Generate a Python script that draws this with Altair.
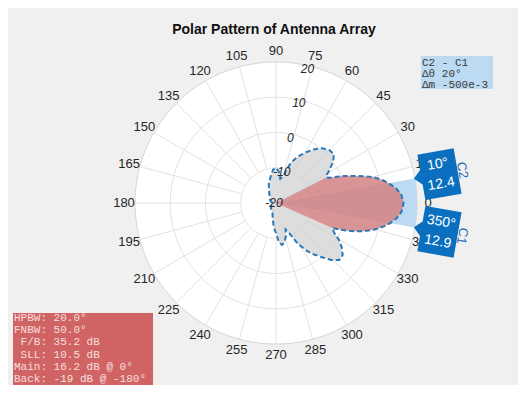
import math
import altair as alt
import pandas as pd

# ---------------- data ----------------
TITLE = "Polar Pattern of Antenna Array"

pattern_angle = [180, 165, 150, 135, 120, 110, 100, 95, 90, 85, 80, 75, 70, 65, 60, 55, 50, 45,
                 40, 36, 32, 29, 27, 25, 22, 20, 17, 15, 12, 10, 7, 4, 0, -4, -7, -10, -12, -15,
                 -18, -20, -22, -24, -27, -30, -34, -38, -42, -46, -50, -55, -58, -62, -66, -70,
                 -74, -78, -82, -86, -90, -95, -100, -110, -120, -135, -150, -165]
pattern_db = [-19, -18.5, -18, -17.5, -16, -14, -12, -10.5, -10, -11, -13, -12, -8, -5.5, -3.5,
              -1.5, 0.3, 1.3, 1.5, 0, -2, -3.5, -4, -3, 0.5, 2.5, 6, 8.5, 11, 12.4, 14.3, 15.6,
              16.2, 15.7, 14.6, 12.9, 11.5, 9, 6, 3.5, 0.5, -2.5, -1.5, 0.5, 2.5, 4, 4.2, 2.5, 0,
              -2.5, -4.4, -7, -10.5, -12, -10, -8.5, -8, -9, -11.5, -13, -15, -17, -17.5, -18,
              -18.5, -19]
main_lobe_range = [-24, 27]          # nulls bounding the main lobe

angle_ticks = list(range(0, 360, 15))
ring_db = [-10, 0, 10, 20]
radial_labels = [-20, -10, 0, 10, 20]
r_min, r_max = -20, 20

cursor_name = ["C1", "C2"]
cursor_angle = [350, 10]
cursor_value = [12.9, 12.4]
span_angles = [-10, 10]

info_keys = ["HPBW:", "FNBW:", "F/B:", "SLL:", "Main:", "Back:"]
info_vals = ["20.0°", "50.0°", "35.2 dB", "10.5 dB", "16.2 dB @ 0°", "-19 dB @ -180°"]
delta_lines = ["C2 - C1", "Δθ 20°", "Δm -500e-3"]

# ---------------- geometry helpers ----------------
R_PX = 141.0
K = R_PX / (r_max - r_min)


def rad(db):
    return (db - r_min) * K


def xy(ang, r):
    t = math.radians(ang)
    return r * math.cos(t), r * math.sin(t)


def poly(points):
    rows = []
    for i, (x, y) in enumerate(points):
        rows.append({"i": i, "x": x, "y": y})
    return pd.DataFrame(rows)


XS = alt.Scale(domain=[-268, 242], nice=False, zero=False)
YS = alt.Scale(domain=[-182, 195], nice=False, zero=False)


def enc(ch, **kw):
    return ch.encode(x=alt.X("x:Q", scale=XS, axis=None),
                     y=alt.Y("y:Q", scale=YS, axis=None), **kw)


circle_steps = list(range(0, 361, 2))

# white disk
disk = poly([xy(a, R_PX) for a in circle_steps])
disk_layer = enc(alt.Chart(disk).mark_line(fill="white", stroke="#d6d6d6", strokeWidth=1),
                 order="i:Q")

# rings
ring_rows = []
for d in ring_db[:-1]:
    for j, a in enumerate(circle_steps):
        x, y = xy(a, rad(d))
        ring_rows.append({"ring": d, "i": j, "x": x, "y": y})
ring_layer = enc(alt.Chart(pd.DataFrame(ring_rows)).mark_line(stroke="#e2e2e2", strokeWidth=1),
                 order="i:Q", detail="ring:N")

# spokes
spoke_rows = []
for a in angle_ticks:
    x1, y1 = xy(a, rad(ring_db[0]))
    x2, y2 = xy(a, R_PX)
    spoke_rows.append({"x": x1, "y": y1, "x2": x2, "y2": y2})
spoke_layer = alt.Chart(pd.DataFrame(spoke_rows)).mark_rule(stroke="#e2e2e2", strokeWidth=1).encode(
    x=alt.X("x:Q", scale=XS, axis=None), y=alt.Y("y:Q", scale=YS, axis=None),
    x2="x2:Q", y2="y2:Q")

# span wedge between cursors
wedge_pts = [(0.0, 0.0)] + [xy(a, R_PX) for a in range(span_angles[0], span_angles[1] + 1)] + [(0.0, 0.0)]
wedge_layer = enc(alt.Chart(poly(wedge_pts)).mark_line(fill="#bcdaf1", strokeWidth=0), order="i:Q")

# pattern
pat_pts = [xy(a, rad(d)) for a, d in zip(pattern_angle, pattern_db)]
pat_closed = pat_pts + [pat_pts[0]]
gray_layer = enc(alt.Chart(poly(pat_closed)).mark_line(fill="#cfcfcf", fillOpacity=0.7, strokeWidth=0),
                 order="i:Q")

lobe = sorted([(a, d) for a, d in zip(pattern_angle, pattern_db)
               if main_lobe_range[0] <= a <= main_lobe_range[1]])
lobe_pts = [(0.0, 0.0)] + [xy(a, rad(d)) for a, d in lobe] + [(0.0, 0.0)]
red_layer = enc(alt.Chart(poly(lobe_pts)).mark_line(fill="#d65a5a", fillOpacity=0.55, strokeWidth=0),
                order="i:Q")

line_layer = enc(alt.Chart(poly(pat_closed)).mark_line(stroke="#2a78b8", strokeWidth=2,
                                                        strokeDash=[5, 3]),
                 order="i:Q")

# angle labels
al = []
for a in angle_ticks:
    x, y = xy(a, R_PX + 11)
    al.append({"x": x, "y": y, "t": str(a)})
angle_lab = enc(alt.Chart(pd.DataFrame(al)).mark_text(font="Liberation Sans", fontSize=13,
                                                      color="#262626", align="center",
                                                      baseline="middle"),
                text="t:N")

# radial labels
rl = []
for d in radial_labels:
    x, y = xy(76, max(rad(d) - 3, 0))
    rl.append({"x": x - 2, "y": y, "t": str(d)})
rad_lab = enc(alt.Chart(pd.DataFrame(rl)).mark_text(font="Liberation Sans", fontSize=12,
                                                    fontStyle="italic", color="#262626",
                                                    align="center", baseline="middle"),
              text="t:N")

# cursors
box_path = "M -0.8 -1 L 0.8 -1 L 0.8 1 L -0.8 1 L -0.8 0.32 L -1.13 0 L -0.8 -0.32 Z"
cur_rows, cur_txt, cur_lab = [], [], []
for n, a, v in zip(cursor_name, cursor_angle, cursor_value):
    cx, cy = xy(a, R_PX + 25)
    t = math.radians(a)
    vx, vy = -math.sin(t), math.cos(t)
    ux, uy = math.cos(t), math.sin(t)
    rot = (360 - a) % 360
    cur_rows.append({"x": cx, "y": cy, "rot": rot})
    cur_txt.append({"x": cx + vx * 10, "y": cy + vy * 10, "t": f"{a}°", "rot": rot})
    cur_txt.append({"x": cx - vx * 10, "y": cy - vy * 10, "t": f"{v}", "rot": rot})
    cur_lab.append({"x": cx + ux * 23, "y": cy + uy * 23, "t": n, "rot": (90 - a) % 360})

cur_layer = enc(alt.Chart(pd.DataFrame(cur_rows)).mark_point(shape=box_path, size=2116, filled=True,
                                                             fill="#0b6fbf", opacity=1,
                                                             strokeWidth=0),
                angle=alt.Angle("rot:Q", scale=None))
cur_txt_layer = enc(alt.Chart(pd.DataFrame(cur_txt)).mark_text(font="Liberation Sans", fontSize=14,
                                                               color="white", align="center",
                                                               baseline="middle"),
                    text="t:N", angle=alt.Angle("rot:Q", scale=None))
cur_lab_layer = enc(alt.Chart(pd.DataFrame(cur_lab)).mark_text(font="Liberation Sans", fontSize=13,
                                                               color="#1f6fb8", align="center",
                                                               baseline="middle"),
                    text="t:N", angle=alt.Angle("rot:Q", scale=None))

# title
title_layer = alt.Chart(pd.DataFrame({"t": [TITLE]})).mark_text(
    font="Liberation Sans", fontSize=14, fontWeight="bold", color="#111111",
    align="center", baseline="middle").encode(x=alt.value(266), y=alt.value(22), text="t:N")

# info box (key column right-aligned at the colon, value column left-aligned)
one = pd.DataFrame({"a": [0]})
info_box = alt.Chart(one).mark_rect(color="#d06464").encode(
    x=alt.value(5), x2=alt.value(145), y=alt.value(305), y2=alt.value(385))
info_df = pd.DataFrame({"k": info_keys, "v": info_vals,
                        "py": [310 + 12.2 * k for k in range(len(info_keys))]})
info_key_txt = alt.Chart(info_df).mark_text(font="Liberation Mono", fontSize=11, color="#f7dede",
                                            align="right", baseline="middle").encode(
    x=alt.value(39), y=alt.Y("py:Q", scale=None), text="k:N")
info_val_txt = alt.Chart(info_df).mark_text(font="Liberation Mono", fontSize=11, color="#f7dede",
                                            align="left", baseline="middle").encode(
    x=alt.value(45.6), y=alt.Y("py:Q", scale=None), text="v:N")

# delta box
delta_box = alt.Chart(one).mark_rect(color="#bcdaf1").encode(
    x=alt.value(413), x2=alt.value(485), y=alt.value(48), y2=alt.value(81))
delta_df = pd.DataFrame({"t": delta_lines, "py": [54.5 + 11 * k for k in range(len(delta_lines))]})
delta_txt = alt.Chart(delta_df).mark_text(font="Liberation Mono", fontSize=11, color="#3a3a3a",
                                          align="left", baseline="middle").encode(
    x=alt.value(414), y=alt.Y("py:Q", scale=None), text="t:N")

chart = alt.layer(
    disk_layer, ring_layer, spoke_layer, wedge_layer, gray_layer, red_layer, line_layer,
    angle_lab, rad_lab, cur_layer, cur_txt_layer, cur_lab_layer, title_layer,
    info_box, info_key_txt, info_val_txt, delta_box, delta_txt
).properties(
    width=510, height=377, padding=0,
    autosize=alt.AutoSizeParams(type="none"),
    background="#f0f0f0"
).configure_view(strokeWidth=0)

chart.save("out.html", embed_options={"renderer": "svg", "actions": False})
